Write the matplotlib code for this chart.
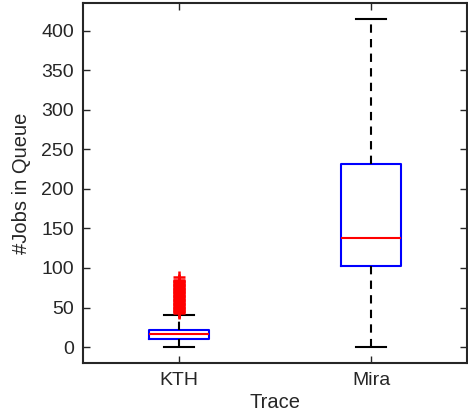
import matplotlib
matplotlib.use("Agg")
import matplotlib.pyplot as plt

plt.rcParams['font.family'] = ['Liberation Sans', 'DejaVu Sans']

# trace names and box statistics
traces = ['KTH', 'Mira']
q1 = [10, 103]
med = [16, 138]
q3 = [22, 232]
whislo = [0, 0]
whishi = [41, 415]

kth_fliers = [43, 44, 45, 46, 47, 48, 49, 50, 51, 52, 53, 54, 55, 56, 57,
              58, 59, 60, 61, 62, 63, 64, 65, 66, 67, 68, 69, 70, 71, 72,
              73, 74, 75, 76, 77, 78, 79, 80, 81, 82, 83, 84, 85, 88]
fliers = [kth_fliers, []]

stats = []
for i in range(len(traces)):
    stats.append(dict(label=traces[i], q1=q1[i], med=med[i], q3=q3[i],
                      whislo=whislo[i], whishi=whishi[i], fliers=fliers[i]))

fig = plt.figure(figsize=(4.68, 4.2), dpi=100)
ax = fig.add_axes([0.177, 0.136, 0.821, 0.857])

ax.bxp(stats, positions=[1, 2], widths=0.31, capwidths=0.16,
       boxprops=dict(color='#0000ff', linewidth=1.5),
       medianprops=dict(color='#ff0000', linewidth=1.5),
       whiskerprops=dict(color='black', linestyle=(0, (4, 3)), linewidth=1.5),
       capprops=dict(color='black', linewidth=1.5),
       flierprops=dict(marker='+', markeredgecolor='#ff0000',
                       markersize=8, markeredgewidth=1.8))

ax.set_xlim(0.5, 2.5)
ax.set_ylim(-20, 435)
ax.set_yticks(range(0, 401, 50))
ax.set_xticks([1, 2])
ax.set_xticklabels(traces)

ax.set_xlabel('Trace', fontsize=14.5, color='#262626', labelpad=3)
ax.set_ylabel('#Jobs in Queue', fontsize=14.5, color='#262626', labelpad=7)
ax.tick_params(direction='in', top=True, right=True, labelsize=14,
               colors='#262626', length=5, width=1, pad=6.5)
for s in ax.spines.values():
    s.set_linewidth(1.5)
    s.set_color('#262626')

fig.savefig('out.png', dpi=100)
